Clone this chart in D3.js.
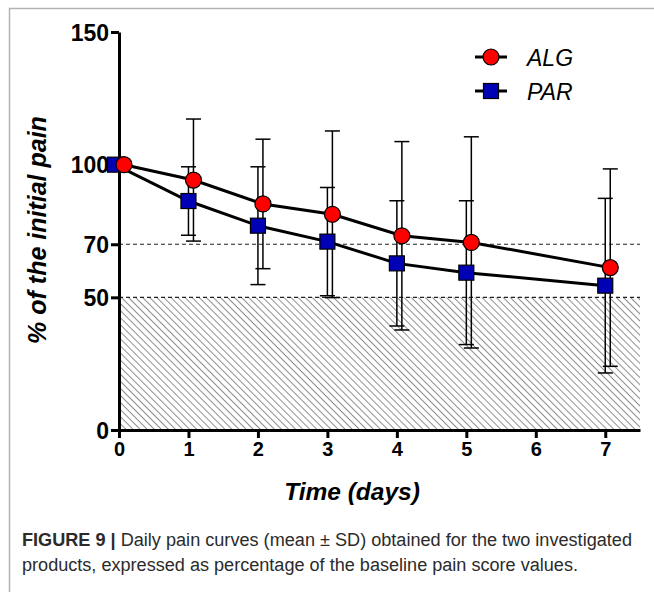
<!DOCTYPE html>
<html>
<head>
<meta charset="utf-8">
<script src="https://cdn.jsdelivr.net/npm/d3@7"></script>
<style>
  body { margin: 0; background: #fff; }
  svg { display: block; }
</style>
</head>
<body>
<div id="chart"></div>
<script>
// Dados (média ± DP, % da dor inicial)
const days = [0, 1, 2, 3, 4, 5, 7];
const algMean = [100, 94.2, 85.2, 81.3, 73.2, 70.7, 61.2];
const algSD = [0, 23.0, 24.4, 31.4, 35.5, 39.8, 37.2];
const parMean = [100, 86.3, 77.0, 71.0, 62.8, 59.3, 54.4];
const parSD = [0, 12.9, 22.2, 20.4, 23.6, 27.1, 32.9];
const yTicks = [0, 50, 70, 100, 150];
const xTicks = [0, 1, 2, 3, 4, 5, 6, 7];
const refLines = [70, 50];

const W = 654, H = 592;
const svg = d3.select("#chart").append("svg")
    .attr("width", W)
    .attr("height", H)
    .style("font-family", "'Liberation Sans', Arial, sans-serif");

// moldura cinza (topo e esquerda)
svg.append("path")
    .attr("d", `M9.5,${H} L9.5,8.5 L${W},8.5`)
    .attr("fill", "none")
    .attr("stroke", "#b3b3b3")
    .attr("stroke-width", 1.5);

// Escalas
const x = d3.scaleLinear().domain([0, 7.5]).range([119, 640]);
const y = d3.scaleLinear().domain([0, 150]).range([430, 32]);

// padrão de hachura
const defs = svg.append("defs");
defs.append("pattern")
    .attr("id", "hatch")
    .attr("patternUnits", "userSpaceOnUse")
    .attr("width", 5)
    .attr("height", 5)
    .attr("patternTransform", "rotate(-45)")
  .append("line")
    .attr("x1", 0).attr("y1", 0)
    .attr("x2", 0).attr("y2", 5)
    .attr("stroke", "#8f8f8f")
    .attr("stroke-width", 2);

svg.append("rect")
    .attr("x", x(0))
    .attr("y", y(50))
    .attr("width", x(7.5) - x(0))
    .attr("height", y(0) - y(50))
    .attr("fill", "url(#hatch)");

// linhas tracejadas de referência
svg.selectAll(".ref")
    .data(refLines)
    .join("line")
    .attr("x1", x(0)).attr("x2", x(7.5))
    .attr("y1", d => y(d)).attr("y2", d => y(d))
    .attr("stroke", "#222")
    .attr("stroke-width", 1.2)
    .attr("stroke-dasharray", "4,3");

// Eixos
const yAxis = svg.append("g")
    .attr("transform", `translate(${x(0)},0)`)
    .call(d3.axisLeft(y).tickValues(yTicks).tickSize(8).tickSizeOuter(0).tickPadding(2));

const xAxis = svg.append("g")
    .attr("transform", `translate(0,${y(0)})`)
    .call(d3.axisBottom(x).tickValues(xTicks).tickSize(8).tickSizeOuter(0).tickPadding(4));

[yAxis, xAxis].forEach(g => {
    g.select(".domain").attr("stroke", "#000").attr("stroke-width", 3);
    g.selectAll(".tick line").attr("stroke", "#000").attr("stroke-width", 3);
    g.selectAll(".tick text")
        .attr("fill", "#000")
        .style("font-family", "'Liberation Sans', Arial, sans-serif")
        .style("font-weight", "bold");
});
yAxis.selectAll(".tick text").style("font-size", "23px").attr("dy", "0.36em");
xAxis.selectAll(".tick text").style("font-size", "20px");

// Títulos dos eixos
svg.append("text")
    .attr("transform", "translate(46,230) rotate(-90)")
    .attr("text-anchor", "middle")
    .style("font-size", "25px")
    .style("font-weight", "bold")
    .style("font-style", "italic")
    .text("% of the initial pain");

svg.append("text")
    .attr("x", 352)
    .attr("y", 500)
    .attr("text-anchor", "middle")
    .style("font-size", "24.5px")
    .style("font-weight", "bold")
    .style("font-style", "italic")
    .text("Time (days)");

// Séries
const series = [
    { name: "ALG", mean: algMean, sd: algSD, shape: "circle", fill: "#ff0000", nudge: i => 5 },
    { name: "PAR", mean: parMean, sd: parSD, shape: "square", fill: "#0000b4", nudge: i => (days[i] === 0 ? -4 : 0) }
];

const capHalf = 7.5;

// barras de erro
series.forEach(s => {
    const g = svg.append("g").attr("class", "err-" + s.name);
    days.forEach((d, i) => {
        if (s.sd[i] === 0) return;
        const cx = x(d) + s.nudge(i);
        const top = y(s.mean[i] + s.sd[i]);
        const bot = y(s.mean[i] - s.sd[i]);
        g.append("line").attr("x1", cx).attr("x2", cx).attr("y1", top).attr("y2", bot);
        g.append("line").attr("x1", cx - capHalf).attr("x2", cx + capHalf).attr("y1", top).attr("y2", top);
        g.append("line").attr("x1", cx - capHalf).attr("x2", cx + capHalf).attr("y1", bot).attr("y2", bot);
    });
    g.selectAll("line").attr("stroke", "#000").attr("stroke-width", 1.5);
});

// linhas
const line = d3.line()
    .x(d => d.x)
    .y(d => d.y);

series.forEach(s => {
    const pts = days.map((d, i) => ({ x: x(d) + s.nudge(i), y: y(s.mean[i]) }));
    s.pts = pts;
    svg.append("path")
        .datum(pts)
        .attr("d", line)
        .attr("fill", "none")
        .attr("stroke", "#000")
        .attr("stroke-width", 3);
});

// marcadores (PAR primeiro, ALG por cima)
function drawMarker(g, shape, cx, cy, fill) {
    if (shape === "circle") {
        g.append("circle").attr("cx", cx).attr("cy", cy).attr("r", 8)
            .attr("fill", fill).attr("stroke", "#000").attr("stroke-width", 1.2);
    } else {
        g.append("rect").attr("x", cx - 7.5).attr("y", cy - 7.5).attr("width", 15).attr("height", 15)
            .attr("fill", fill).attr("stroke", "#000").attr("stroke-width", 1.2);
    }
}

[series[1], series[0]].forEach(s => {
    const g = svg.append("g");
    s.pts.forEach(p => drawMarker(g, s.shape, p.x, p.y, s.fill));
});

// Legenda
series.forEach((s, i) => {
    const ly = 57 + i * 34;
    const g = svg.append("g");
    g.append("line").attr("x1", 475).attr("x2", 507).attr("y1", ly).attr("y2", ly)
        .attr("stroke", "#000").attr("stroke-width", 3);
    drawMarker(g, s.shape, 491, ly, s.fill);
    g.append("text")
        .attr("x", 527)
        .attr("y", ly + 8.5)
        .style("font-size", "23px")
        .style("font-style", "italic")
        .text(s.name);
});

// Legenda da figura
const cap1 = svg.append("text")
    .attr("x", 22)
    .attr("y", 546)
    .attr("textLength", 610)
    .attr("lengthAdjust", "spacingAndGlyphs")
    .style("font-family", "'Liberation Sans Narrow', 'Arial Narrow', 'Liberation Sans', sans-serif")
    .style("font-size", "18px")
    .attr("fill", "#2b2b2b");
cap1.append("tspan").style("font-weight", "bold").text("FIGURE 9 | ");
cap1.append("tspan").text("Daily pain curves (mean ± SD) obtained for the two investigated");

svg.append("text")
    .attr("x", 22)
    .attr("y", 571)
    .attr("textLength", 556)
    .attr("lengthAdjust", "spacingAndGlyphs")
    .style("font-family", "'Liberation Sans Narrow', 'Arial Narrow', 'Liberation Sans', sans-serif")
    .style("font-size", "18px")
    .attr("fill", "#2b2b2b")
    .text("products, expressed as percentage of the baseline pain score values.");
</script>
</body>
</html>
